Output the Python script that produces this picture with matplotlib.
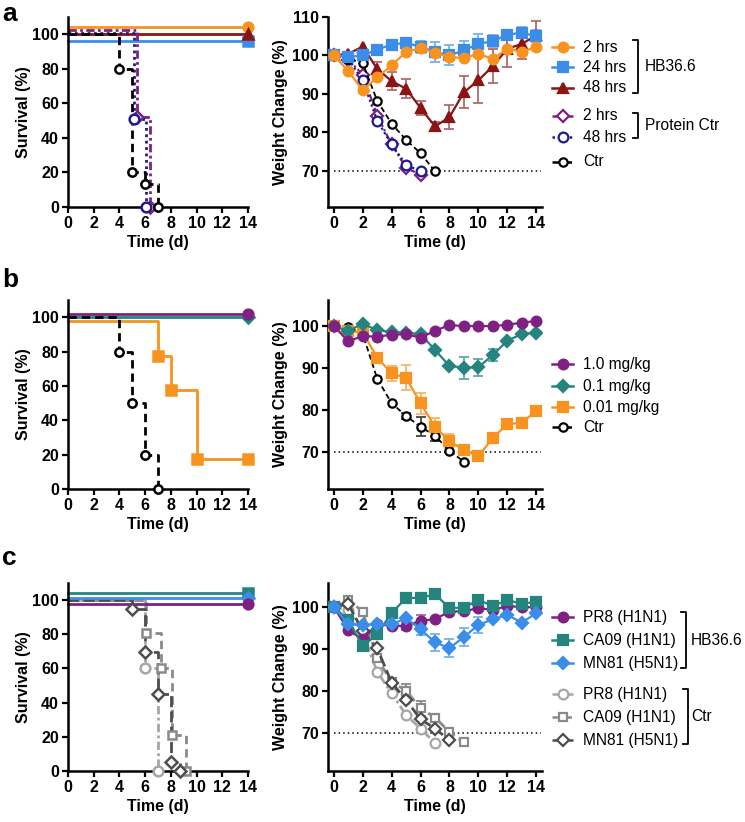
import numpy as np
import matplotlib
matplotlib.use('Agg')
import matplotlib.pyplot as plt
from matplotlib.lines import Line2D

plt.rcParams['font.family'] = ['Liberation Sans', 'DejaVu Sans']

# colours
ORANGE = '#F7931E'
BLUE = '#3A8EEA'
DARKRED = '#8B1414'
PURPLE = '#7E2183'
NAVY = '#1C1C8F'
TEAL = '#25857E'
LGRAY = '#A6A6A6'
MGRAY = '#8A8A8A'
DGRAY = '#4D4D4D'

# ---------------- panel a ----------------
# survival (time of event, % survival)
sa_2h_t, sa_2h_s = [0, 14], [104, 104]
sa_24h_t, sa_24h_s = [0, 14], [96, 96]
sa_48h_t, sa_48h_s = [0, 14], [100, 100]
sa_p2h_t, sa_p2h_s = [0, 5.4, 6.4], [102.5, 52, 0]
sa_p48h_t, sa_p48h_s = [0, 5.1, 6.1], [101, 51, 0]
sa_ctr_t, sa_ctr_s = [0, 4, 5, 6, 7], [100, 80, 20, 13.5, 0]

# weight change (%) by day
wa_2h = [100, 95.9, 90.9, 94.3, 97.4, 100.9, 101.9, 100.7, 99.6, 99.3, 100.4, 99.1, 101.7, 100.9, 102.2]
wa_2h_err = [0, 0, 0.6, 0.6, 0.6, 0.6, 0.5, 0.5, 0.5, 0.5, 0.5, 0.5, 0.5, 0.8, 0.5]
wa_24h = [100, 99.6, 100, 101.5, 102.8, 103.3, 102.2, 100.9, 100, 101.3, 103, 103.7, 105.4, 105.9, 105.0]
wa_24h_err = [0, 0, 0, 0.5, 0.8, 0.8, 1.6, 2.5, 2.6, 2.4, 2.6, 1.6, 1.3, 1.5, 1.5]
wa_48h = [100, 100.4, 102.3, 96.5, 93.3, 91.3, 86.3, 81.5, 83.9, 90.4, 93.5, 97.2, 101.7, 103.0, 105.2]
wa_48h_err = [0, 0, 0, 1.8, 2.4, 2.5, 1.9, 1.2, 3.2, 4.2, 6.0, 4.4, 4.6, 4.0, 3.7]
wa_p2h = [100, 98.9, 95, 84.3, 76.8, 70.7, 68.9]
wa_p48h = [100, 99.1, 93.5, 83, 76.8, 71.5, 69.8]
wa_ctr = [100, 99.1, 98, 88.2, 82.2, 78, 74.5, 69.8]

# ---------------- panel b ----------------
sb_10_t, sb_10_s = [0, 14], [102, 102]
sb_01_t, sb_01_s = [0, 14], [100, 100]
sb_001_t, sb_001_s = [0, 7, 8, 10, 14], [97.5, 77.5, 57.5, 17.5, 17.5]
sb_ctr_t, sb_ctr_s = [0, 4, 5, 6, 7], [100, 80, 50, 20, 0]

wb_10 = [100, 96.4, 97.6, 97.5, 97.9, 98.1, 97.2, 98.9, 100.2, 100, 100, 100, 100.3, 100.8, 101.2]
wb_01 = [100, 98.8, 100.6, 99.0, 98.6, 98.4, 98.1, 94.3, 90.5, 90.1, 90.2, 93.1, 96.5, 98.1, 98.4]
wb_01_err = [0, 0, 0, 0, 0, 0, 0, 0, 0, 2.6, 2.0, 1.4, 0, 0, 0]
wb_001 = [100, 98.8, 98.5, 92.5, 88.7, 87.7, 81.6, 76.0, 72.6, 70.5, 69.0, 73.4, 76.6, 77.0, 79.8]
wb_001_err = [0, 0, 0, 0, 1.9, 3.0, 2.5, 2.2, 1.6, 0, 1.0, 0, 0, 0, 0]
wb_ctr = [100, 99.8, 98.1, 87.5, 81.6, 78.6, 76.0, 73.9, 70.3, 67.7]
wb_ctr_err = [0, 0, 0, 0, 0, 0.8, 2.3, 1.2, 0, 0]

# ---------------- panel c ----------------
sc_ca09_t, sc_ca09_s = [0, 14], [104, 104]
sc_mn81_t, sc_mn81_s = [0, 14], [101, 101]
sc_pr8_t, sc_pr8_s = [0, 14], [98, 98]
sc_cpr8_t, sc_cpr8_s = [0, 6, 7], [100, 60, 0]
sc_cca09_t, sc_cca09_s = [0, 6.1, 7.2, 8.1, 9.2], [100, 80.5, 60.5, 21, 0]
sc_cmn81_t, sc_cmn81_s = [0, 5, 6, 7, 8, 8.7], [100, 95, 69.5, 45, 5, 0]

wc_pr8 = [100, 94.5, 92.3, 95.9, 95.5, 95.5, 96.7, 97.1, 98.9, 99.0, 99.7, 99.3, 100.2, 100, 99.9]
wc_pr8_err = [0, 0, 0, 0, 0, 1.0, 1.3, 0, 0, 0, 0, 0, 0, 0, 0]
wc_ca09 = [100, 96.9, 90.7, 93.5, 98.6, 102.1, 102.2, 103.0, 99.8, 99.8, 101.7, 100.2, 101.7, 100.7, 101.3]
wc_mn81 = [100, 95.9, 95.7, 95.9, 95.9, 97.3, 94.7, 91.6, 90.2, 92.9, 95.7, 97.1, 98.1, 96.3, 98.5]
wc_mn81_err = [0, 0, 0, 0, 0, 0, 1.3, 2.0, 2.2, 2.1, 2.0, 0, 0, 0, 0]
wc_cpr8 = [100, 99.3, 93.7, 84.6, 79.5, 74.3, 71.1, 67.6]
wc_cca09 = [100, 101.7, 98.9, 87.8, 82.2, 80.1, 75.9, 73.7, 70.3, 67.8]
wc_cca09_err = [0, 0, 0, 0, 0, 1.6, 1.8, 0, 0, 0]
wc_cmn81 = [100, 100.7, 94.3, 90.2, 82.0, 77.9, 73.3, 71.1, 68.3]

legend_a = ['2 hrs', '24 hrs', '48 hrs', '2 hrs', '48 hrs', 'Ctr']
legend_b = ['1.0 mg/kg', '0.1 mg/kg', '0.01 mg/kg', 'Ctr']
legend_c = ['PR8 (H1N1)', 'CA09 (H1N1)', 'MN81 (H5N1)', 'PR8 (H1N1)', 'CA09 (H1N1)', 'MN81 (H5N1)']

W, H = 745, 822
FS = 11.5
fig = plt.figure(figsize=(W / 100, H / 100), dpi=100)

ov = fig.add_axes([0, 0, 1, 1])
ov.set_xlim(0, W)
ov.set_ylim(H, 0)
ov.axis('off')


def add_ax(left, right, top, bottom):
    return fig.add_axes([left / W, 1 - bottom / H, (right - left) / W, (bottom - top) / H])


def style(ax):
    for s in ['top', 'right']:
        ax.spines[s].set_visible(False)
    for s in ['left', 'bottom']:
        ax.spines[s].set_linewidth(1.8)
    ax.tick_params(width=1.6, length=4.5, labelsize=FS, pad=2)
    for lab in ax.get_xticklabels() + ax.get_yticklabels():
        lab.set_fontweight('bold')
    ax.set_xlabel('Time (d)', fontsize=FS, fontweight='bold', labelpad=3)
    ax.patch.set_visible(False)


def surv(ax, t, s, color, marker, ls='-', mfc=None, ms=7, lw=2.0):
    mfc = color if mfc is None else mfc
    ax.step(t, s, where='post', color=color, ls=ls, lw=lw, clip_on=False)
    ax.plot(t[1:], s[1:], ls='none', marker=marker, color=color, mfc=mfc,
            mec=color, ms=ms, mew=1.8, clip_on=False, zorder=4)


def weight(ax, y, color, marker, ls='-', mfc=None, err=None, ecolor=None, ms=7, lw=1.6):
    mfc = color if mfc is None else mfc
    y = np.array(y)
    x = np.arange(len(y))
    if err is not None:
        e = np.array(err)
        m = e > 0
        ax.errorbar(x[m], y[m], yerr=e[m], fmt='none', ecolor=ecolor or color,
                    capsize=3.5, elinewidth=1.3, capthick=1.3, zorder=2)
    ax.plot(x, y, color=color, ls=ls, lw=lw, marker=marker, mfc=mfc, mec=color,
            ms=ms, mew=1.6, zorder=3)


def surv_axis(ax):
    ax.set_xlim(0, 14)
    ax.set_ylim(0, 110)
    ax.set_xticks(range(0, 15, 2))
    ax.set_yticks(range(0, 101, 20))
    style(ax)
    ax.set_ylabel('Survival (%)', fontsize=FS, fontweight='bold', labelpad=1)


def weight_axis(ax, ylim, yticks):
    ax.set_xlim(-0.4, 14.4)
    ax.set_ylim(*ylim)
    ax.set_xticks(range(0, 15, 2))
    ax.set_yticks(yticks)
    ax.axhline(70, xmin=0.4 / 14.8, xmax=14.7 / 14.8, color='black', ls=(0, (1, 2)), lw=1.1, zorder=1)
    style(ax)
    ax.set_ylabel('Weight Change (%)', fontsize=FS, fontweight='bold', labelpad=3)


DASH = (0, (3.0, 1.8))
DASHDOT = (0, (3, 1.2, 1, 1.2))
DOT = (0, (1, 1.3))

# ---- panel a ----
ax = add_ax(68, 248, 17, 207)
surv(ax, sa_2h_t, sa_2h_s, ORANGE, 'o')
surv(ax, sa_24h_t, sa_24h_s, BLUE, 's')
surv(ax, sa_48h_t, sa_48h_s, DARKRED, '^')
surv(ax, sa_p2h_t, sa_p2h_s, PURPLE, 'D', ls=DASHDOT, mfc='white', ms=6)
surv(ax, sa_p48h_t, sa_p48h_s, NAVY, 'o', ls=DOT, mfc='white')
surv(ax, sa_ctr_t, sa_ctr_s, 'black', 'o', ls=DASH, mfc='white', ms=6)
surv_axis(ax)

ax = add_ax(328, 542, 17, 207)
weight(ax, wa_p2h, PURPLE, 'D', ls=DASHDOT, mfc='white', ms=6)
weight(ax, wa_p48h, NAVY, 'o', ls=DOT, mfc='white')
weight(ax, wa_ctr, 'black', 'o', ls=DASH, mfc='white', ms=6, lw=1.3)
weight(ax, wa_48h, DARKRED, '^', err=wa_48h_err, ecolor='#B46A6A')
weight(ax, wa_24h, BLUE, 's', err=wa_24h_err, ecolor='#74B3F2')
weight(ax, wa_2h, ORANGE, 'o', err=wa_2h_err, ecolor='#F8B468')
weight_axis(ax, (60.5, 110), [70, 80, 90, 100, 110])

# ---- panel b ----
ax = add_ax(68, 248, 300, 489)
surv(ax, sb_001_t, sb_001_s, ORANGE, 's')
surv(ax, sb_01_t, sb_01_s, TEAL, 'D', ms=6)
surv(ax, sb_10_t, sb_10_s, PURPLE, 'o')
surv(ax, sb_ctr_t, sb_ctr_s, 'black', 'o', ls=DASH, mfc='white', ms=6)
surv_axis(ax)

ax = add_ax(328, 542, 300, 489)
weight(ax, wb_ctr, 'black', 'o', ls=DASH, mfc='white', err=wb_ctr_err, ecolor='#444444', ms=6, lw=1.3)
weight(ax, wb_001, ORANGE, 's', err=wb_001_err, ecolor='#F8B468')
weight(ax, wb_01, TEAL, 'D', err=wb_01_err, ecolor='#5FA9A3', ms=6)
weight(ax, wb_10, PURPLE, 'o')
weight_axis(ax, (61.2, 106.2), [70, 80, 90, 100])

# ---- panel c ----
ax = add_ax(68, 248, 583, 771)
surv(ax, sc_cpr8_t, sc_cpr8_s, LGRAY, 'o', ls=DASHDOT, mfc='white')
surv(ax, sc_cca09_t, sc_cca09_s, MGRAY, 's', ls=DASH, mfc='white', ms=6)
surv(ax, sc_cmn81_t, sc_cmn81_s, DGRAY, 'D', ls=(0, (4, 1.5)), mfc='white', ms=6)
surv(ax, sc_ca09_t, sc_ca09_s, TEAL, 's')
surv(ax, sc_mn81_t, sc_mn81_s, BLUE, 'D', ms=6)
surv(ax, sc_pr8_t, sc_pr8_s, PURPLE, 'o')
surv_axis(ax)

ax = add_ax(328, 542, 583, 771)
weight(ax, wc_cpr8, LGRAY, 'o', ls=DASHDOT, mfc='white', lw=2)
weight(ax, wc_cca09, MGRAY, 's', ls=DASH, mfc='white', err=wc_cca09_err, ms=6, lw=2)
weight(ax, wc_cmn81, DGRAY, 'D', ls=(0, (4, 1.5)), mfc='white', ms=6, lw=2)
weight(ax, wc_pr8, PURPLE, 'o', err=wc_pr8_err, ecolor='#A566AD')
weight(ax, wc_ca09, TEAL, 's')
weight(ax, wc_mn81, BLUE, 'D', err=wc_mn81_err, ecolor='#74B3F2', ms=6)
weight_axis(ax, (61.0, 105.7), [70, 80, 90, 100])

# ---- legends, brackets, panel letters ----
def leg_row(y, label, color, marker, ls='-', mfc=None, ms=7):
    mfc = color if mfc is None else mfc
    ov.add_line(Line2D([552, 573], [y, y], color=color, ls=ls, lw=1.8))
    ov.plot([562.5], [y], marker=marker, color=color, mfc=mfc, mec=color, ms=ms, mew=1.6)
    ov.text(583, y, label, fontsize=11.2, va='center', ha='left')


def bracket(x, y0, y1, label, lx):
    ov.plot([x - 5, x, x, x - 5], [y0, y0, y1, y1], color='black', lw=1.3)
    ov.text(lx, (y0 + y1) / 2, label, fontsize=11.2, va='center', ha='left')


rows_a = [47, 67, 88, 116, 137, 162]
sty_a = [(ORANGE, 'o', '-', None, 7), (BLUE, 's', '-', None, 7), (DARKRED, '^', '-', None, 7),
         (PURPLE, 'D', DASHDOT, 'white', 6), (NAVY, 'o', DOT, 'white', 7), ('black', 'o', DASH, 'white', 6)]
for y, lab, st in zip(rows_a, legend_a, sty_a):
    leg_row(y, lab, *st)
bracket(638, 40, 93, 'HB36.6', 645)
bracket(638, 113, 138, 'Protein Ctr', 645)

rows_b = [364, 386, 407, 427]
sty_b = [(PURPLE, 'o', '-', None, 7), (TEAL, 'D', '-', None, 6), (ORANGE, 's', '-', None, 7),
         ('black', 'o', DASH, 'white', 6)]
for y, lab, st in zip(rows_b, legend_b, sty_b):
    leg_row(y, lab, *st)

rows_c = [617, 640, 663, 694, 717, 740]
sty_c = [(PURPLE, 'o', '-', None, 7), (TEAL, 's', '-', None, 7), (BLUE, 'D', '-', None, 6),
         (LGRAY, 'o', DASHDOT, 'white', 7), (MGRAY, 's', DASH, 'white', 6), (DGRAY, 'D', (0, (4, 1.5)), 'white', 6)]
for y, lab, st in zip(rows_c, legend_c, sty_c):
    leg_row(y, lab, *st)
bracket(686, 612, 668, 'HB36.6', 691)
bracket(688, 689, 744, 'Ctr', 691)

for lab, y in [('a', 14), ('b', 280), ('c', 558)]:
    ov.text(2, y, lab, fontsize=19, fontweight='bold', va='center', ha='left')

fig.savefig('out.png', dpi=100)
